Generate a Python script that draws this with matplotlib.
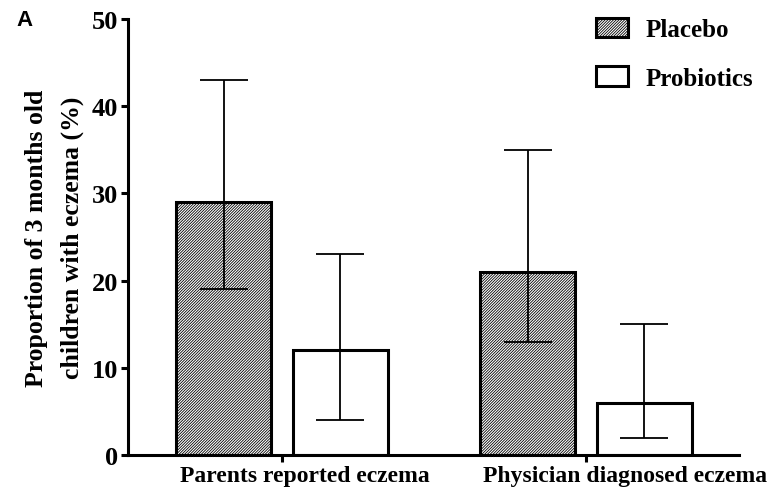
import numpy as np
import matplotlib.pyplot as plt

plt.rcParams['font.family'] = ['Liberation Serif', 'DejaVu Serif']
plt.rcParams['font.weight'] = 'bold'
plt.rcParams['hatch.linewidth'] = 0.6
plt.rcParams['hatch.color'] = '#333333'

# Data: proportion with eczema (%) and asymmetric 95% CI
outcomes = ['Parents reported eczema', 'Physician diagnosed eczema']
placebo = [29, 21]
placebo_lo = [19, 13]
placebo_hi = [43, 35]
probiotics = [12, 6]
probiotics_lo = [4, 2]
probiotics_hi = [23, 15]

fig = plt.figure(figsize=(7.69, 4.89), dpi=100)
ax = fig.add_axes([0.1664, 0.0675, 0.7945, 0.8915])

x = np.arange(len(outcomes))
width = 0.3125
offset = 0.192

ax.bar(x - offset, placebo, width, facecolor='white', edgecolor='black',
       linewidth=2.2, hatch='/' * 12, label='Placebo', zorder=2)
ax.bar(x + offset, probiotics, width, facecolor='white', edgecolor='black',
       linewidth=2.2, label='Probiotics', zorder=2)

pl_err = [np.array(placebo) - np.array(placebo_lo), np.array(placebo_hi) - np.array(placebo)]
pr_err = [np.array(probiotics) - np.array(probiotics_lo), np.array(probiotics_hi) - np.array(probiotics)]
ax.errorbar(x - offset, placebo, yerr=pl_err, fmt='none', ecolor='black',
            elinewidth=1.3, capsize=17, capthick=1.3, zorder=3)
ax.errorbar(x + offset, probiotics, yerr=pr_err, fmt='none', ecolor='black',
            elinewidth=1.3, capsize=17, capthick=1.3, zorder=3)

ax.set_xlim(-0.507, 1.503)
ax.set_ylim(0, 50)
ax.set_yticks([0, 10, 20, 30, 40, 50])
ax.set_xticks(x)
ax.set_xticklabels([])

# category labels sit a little right of the ticks
label_x = [0.076, 1.128]
for xi, name in zip(label_x, outcomes):
    ax.text(xi, -1.2, name, ha='center', va='top', fontsize=17,
            fontweight='bold')

for side in ['top', 'right']:
    ax.spines[side].set_visible(False)
for side in ['left', 'bottom']:
    ax.spines[side].set_linewidth(2.2)

ax.tick_params(axis='y', direction='out', length=5, width=2.2, labelsize=19, pad=2)
ax.tick_params(axis='x', direction='out', length=5, width=2.2)

ax.set_ylabel('Proportion of 3 months old\nchildren with eczema (%)',
              fontsize=18.5, fontweight='bold', labelpad=6, linespacing=1.7)

ax.legend(loc='upper left', bbox_to_anchor=(0.746, 1.008),
          bbox_transform=fig.transFigure, frameon=False,
          fontsize=18, handlelength=1.28, handleheight=0.84, labelspacing=1.0,
          handletextpad=0.68, borderpad=0.4)
leg = ax.get_legend()
for patch in leg.get_patches():
    patch.set_linewidth(2.2)

fig.text(0.022, 0.959, 'A', fontsize=16, fontweight='bold',
         family=['Liberation Sans', 'DejaVu Sans'], va='center')

fig.savefig('out.png', dpi=100)
